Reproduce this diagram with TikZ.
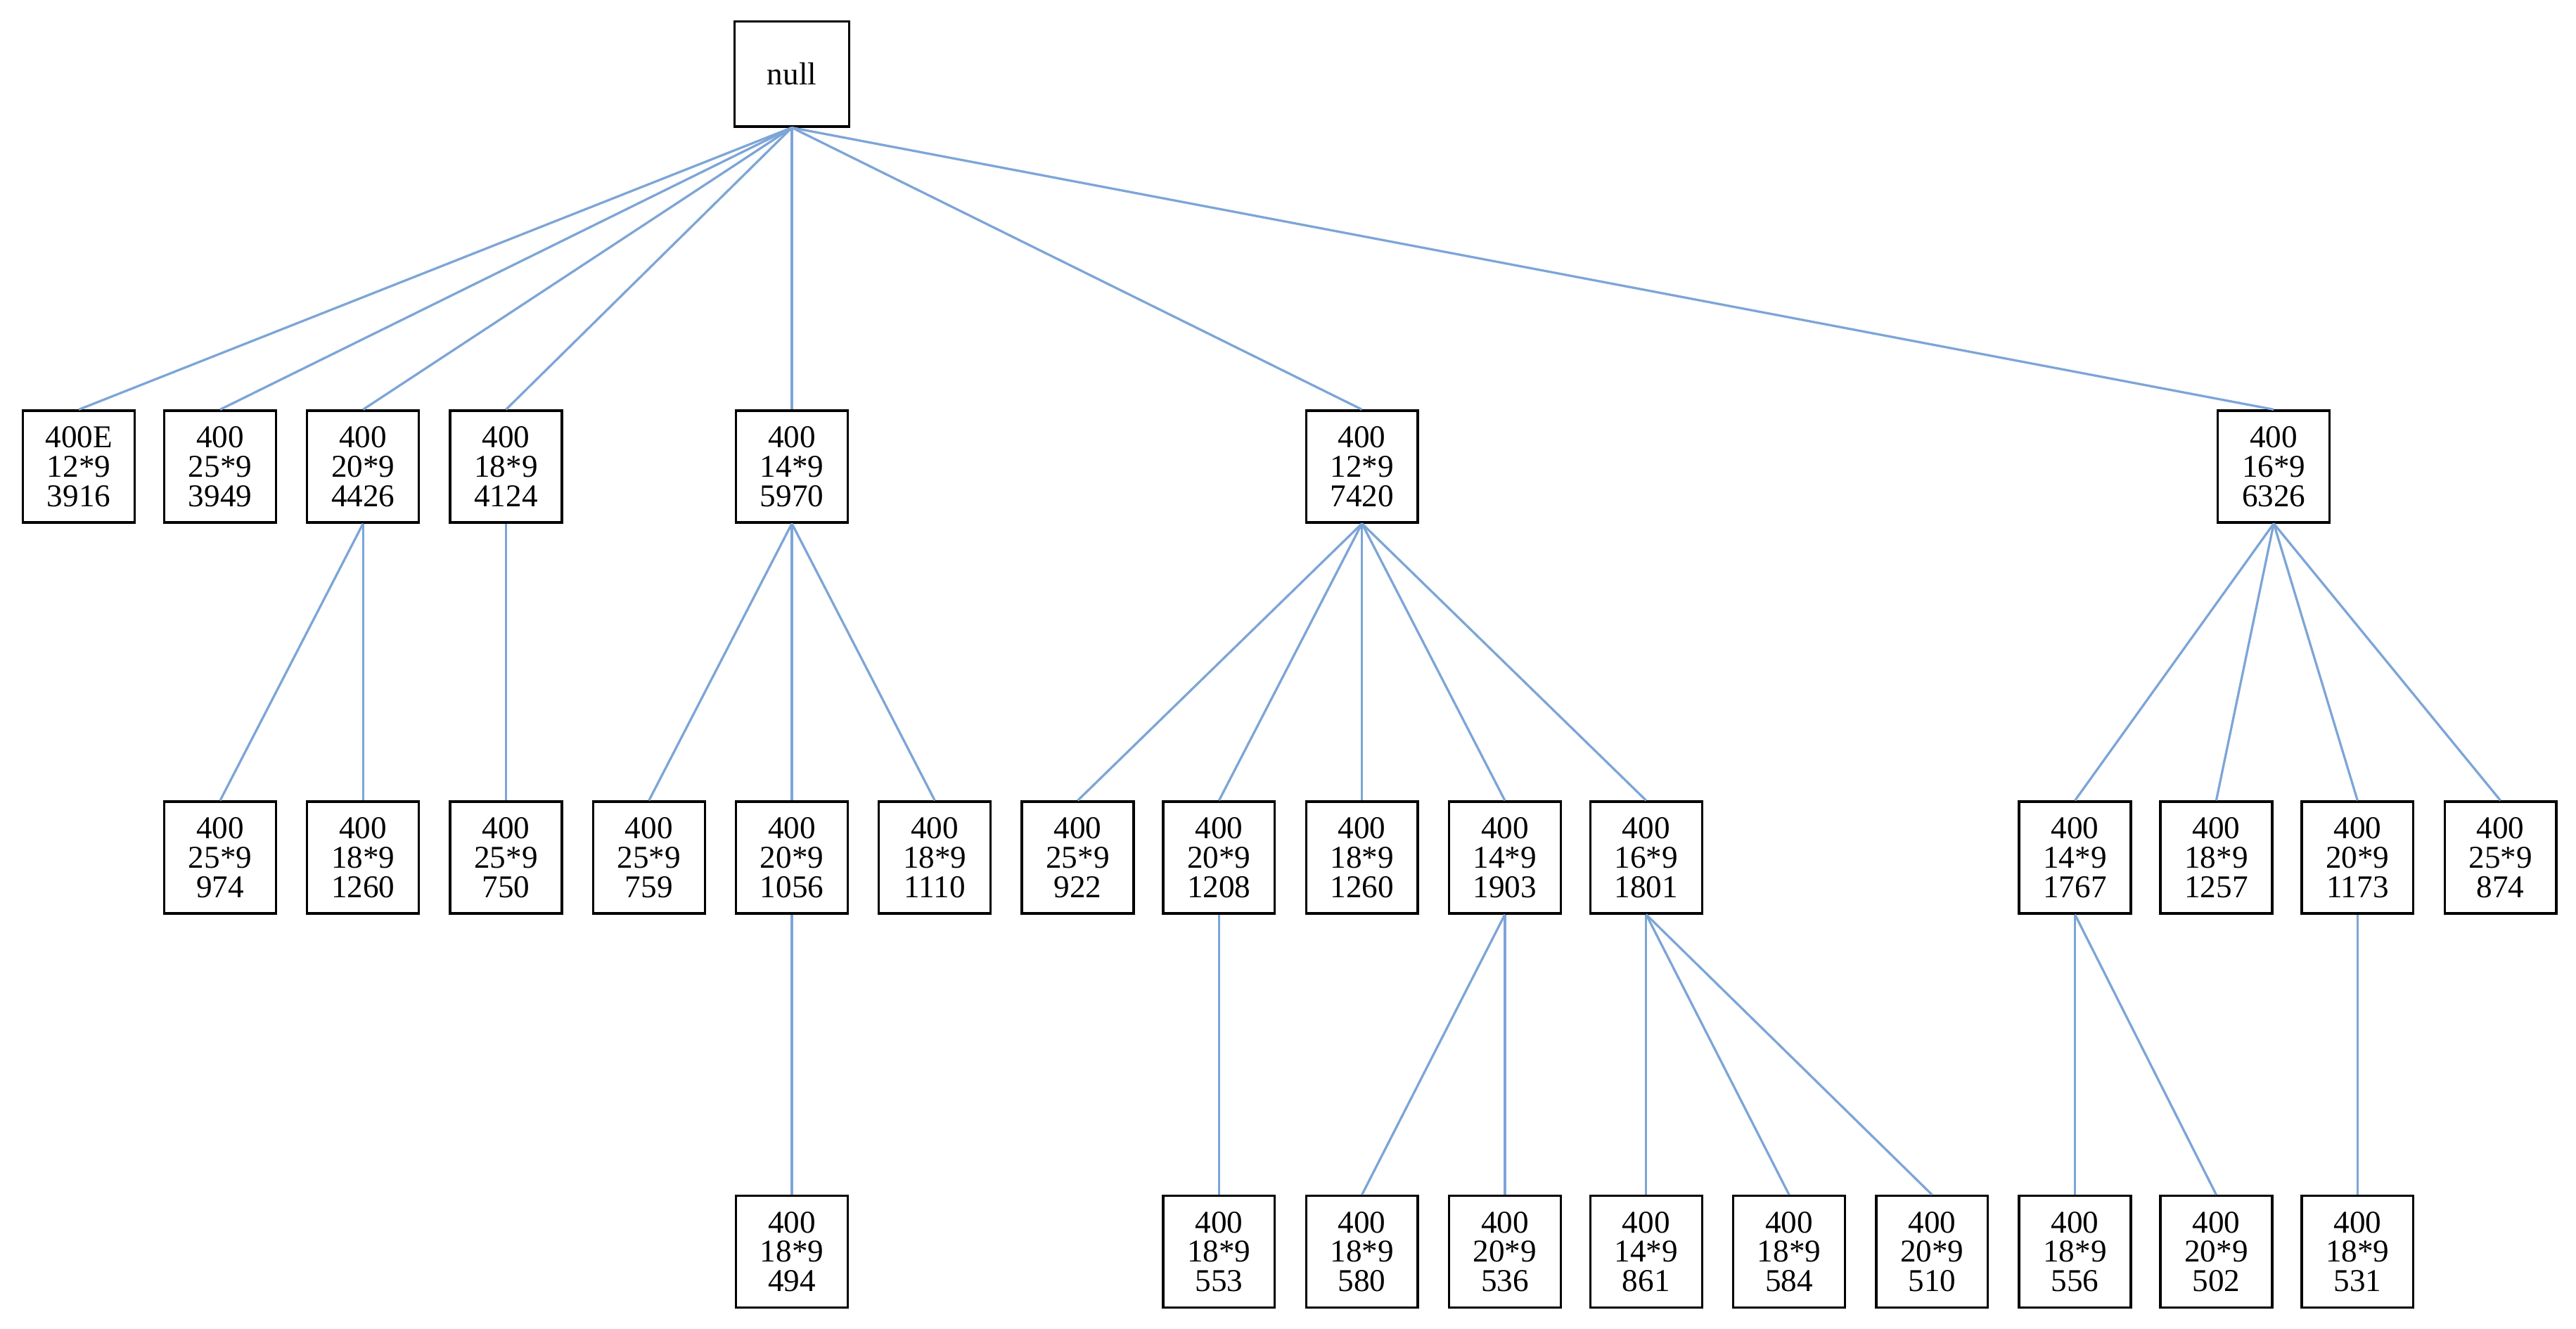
\documentclass[tikz,border=0pt]{standalone}
\usepackage{fontspec}
\setmainfont{Liberation Serif}
\usetikzlibrary{positioning}
\definecolor{edgeblue}{RGB}{125,165,215}

\begin{document}
\begin{tikzpicture}[
            box/.style={rectangle, draw, line width=0.8pt, minimum width=1.36cm, minimum height=1.36cm,
                inner sep=0pt, align=center, font=\fontsize{11}{10.2}\selectfont},
            line/.style={draw=edgeblue, line width=0.8pt}
        ]
        \useasboundingbox (0,0) rectangle (31.36,-16.18);

        % Root
        \node[box, minimum width=1.4cm, minimum height=1.28cm] (root) at (9.64,-0.9) {null};

        % First level
        \node[box] (a3916) at (0.96,-5.68) {400E\\12*9\\3916};
        \node[box] (a3949) at (2.68,-5.68) {400\\25*9\\3949};
        \node[box] (a4426) at (4.42,-5.68) {400\\20*9\\4426};
        \node[box] (a4124) at (6.16,-5.68) {400\\18*9\\4124};
        \node[box] (a5970) at (9.64,-5.68) {400\\14*9\\5970};
        \node[box] (a7420) at (16.58,-5.68) {400\\12*9\\7420};
        \node[box] (a6326) at (27.68,-5.68) {400\\16*9\\6326};

        % Second level
        \node[box] (b974) at (2.68,-10.44) {400\\25*9\\974};
        \node[box] (b1260a) at (4.42,-10.44) {400\\18*9\\1260};
        \node[box] (b750) at (6.16,-10.44) {400\\25*9\\750};
        \node[box] (b759) at (7.90,-10.44) {400\\25*9\\759};
        \node[box] (b1056) at (9.64,-10.44) {400\\20*9\\1056};
        \node[box] (b1110) at (11.38,-10.44) {400\\18*9\\1110};
        \node[box] (b922) at (13.12,-10.44) {400\\25*9\\922};
        \node[box] (b1208) at (14.84,-10.44) {400\\20*9\\1208};
        \node[box] (b1260b) at (16.58,-10.44) {400\\18*9\\1260};
        \node[box] (b1903) at (18.32,-10.44) {400\\14*9\\1903};
        \node[box] (b1801) at (20.04,-10.44) {400\\16*9\\1801};
        \node[box] (b1767) at (25.26,-10.44) {400\\14*9\\1767};
        \node[box] (b1257) at (26.98,-10.44) {400\\18*9\\1257};
        \node[box] (b1173) at (28.70,-10.44) {400\\20*9\\1173};
        \node[box] (b874) at (30.44,-10.44) {400\\25*9\\874};

        % Third level
        \node[box] (c494) at (9.64,-15.24) {400\\18*9\\494};
        \node[box] (c553) at (14.84,-15.24) {400\\18*9\\553};
        \node[box] (c580) at (16.58,-15.24) {400\\18*9\\580};
        \node[box] (c536) at (18.32,-15.24) {400\\20*9\\536};
        \node[box] (c861) at (20.04,-15.24) {400\\14*9\\861};
        \node[box] (c584) at (21.78,-15.24) {400\\18*9\\584};
        \node[box] (c510) at (23.52,-15.24) {400\\20*9\\510};
        \node[box] (c556) at (25.26,-15.24) {400\\18*9\\556};
        \node[box] (c502) at (26.98,-15.24) {400\\20*9\\502};
        \node[box] (c531) at (28.70,-15.24) {400\\18*9\\531};

        \foreach \child in {a3916,a3949,a4426,a4124,a5970,a7420,a6326}
            \draw[line] (root.south) -- (\child.north);

        \draw[line] (a4426.south) -- (b974.north);
        \draw[line] (a4426.south) -- (b1260a.north);
        \draw[line] (a4124.south) -- (b750.north);

        \draw[line] (a5970.south) -- (b759.north);
        \draw[line] (a5970.south) -- (b1056.north);
        \draw[line] (a5970.south) -- (b1110.north);
        \draw[line] (b1056.south) -- (c494.north);

        \foreach \child in {b922,b1208,b1260b,b1903,b1801}
            \draw[line] (a7420.south) -- (\child.north);
        \draw[line] (b1208.south) -- (c553.north);
        \draw[line] (b1903.south) -- (c580.north);
        \draw[line] (b1903.south) -- (c536.north);
        \draw[line] (b1801.south) -- (c861.north);
        \draw[line] (b1801.south) -- (c584.north);
        \draw[line] (b1801.south) -- (c510.north);

        \foreach \child in {b1767,b1257,b1173,b874}
            \draw[line] (a6326.south) -- (\child.north);
        \draw[line] (b1767.south) -- (c556.north);
        \draw[line] (b1767.south) -- (c502.north);
        \draw[line] (b1173.south) -- (c531.north);

    \end{tikzpicture}
\end{document}
